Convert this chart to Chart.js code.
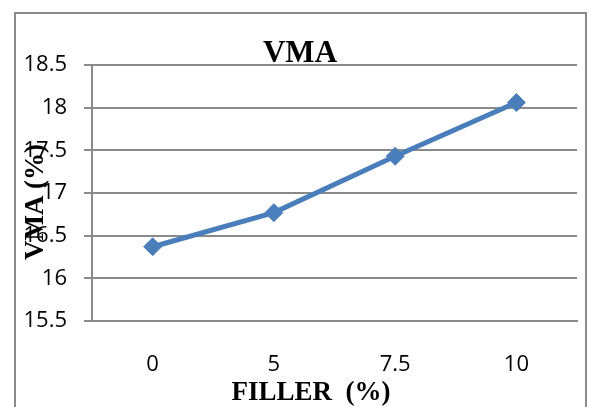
<!DOCTYPE html>
<html>
<head>
<meta charset="utf-8">
<title>VMA</title>
<script src="https://cdn.jsdelivr.net/npm/chart.js@4.4.0/dist/chart.umd.min.js"></script>
<style>
  html, body { margin: 0; padding: 0; background: #fff; }
  #wrap { position: relative; width: 589px; height: 407px; overflow: hidden; }
  #frame { position: absolute; left: 14px; top: 12px; width: 573px; height: 420px;
           border: 2px solid #8a8a8a; box-sizing: border-box; }
  #chart { position: absolute; left: 0; top: 0; }
</style>
</head>
<body>
<div id="wrap">
  <div id="frame"></div>
  <canvas id="chart" width="589" height="407"></canvas>
</div>
<script>
// filler content vs. VMA
const fillerPct = ['0', '5', '7.5', '10'];
const vmaValues = [16.37, 16.77, 17.43, 18.06];
const yMin = 15.5;
const yMax = 18.5;
const yStep = 0.5;

const chartTitle = 'VMA';
const xTitle = 'FILLER  (%)';
const yTitle = 'VMA (%)';

const gridGray = '#8a8a8a';
const lineBlue = '#4a7ebb';
const tickFont = { family: '"Open Sans", sans-serif', size: 22 };

// titles sit over the plot edges, so they are painted by hand
const titlesPlugin = {
  id: 'titles',
  afterDraw(chart) {
    const ctx = chart.ctx;
    ctx.save();
    ctx.fillStyle = '#000';
    ctx.textAlign = 'center';
    ctx.textBaseline = 'alphabetic';
    ctx.font = 'bold 31px "Liberation Serif", serif';
    ctx.fillText(chartTitle, 300, 62);
    ctx.font = 'bold 27px "Liberation Serif", serif';
    ctx.fillText(xTitle, 311, 400);
    ctx.translate(43, 202);
    ctx.rotate(-Math.PI / 2);
    ctx.fillText(yTitle, 0, 0);
    ctx.restore();
  }
};

new Chart(document.getElementById('chart'), {
  type: 'line',
  data: {
    labels: fillerPct,
    datasets: [{
      data: vmaValues,
      borderColor: lineBlue,
      backgroundColor: lineBlue,
      borderWidth: 5,
      tension: 0,
      pointStyle: 'rectRot',
      pointRadius: 9,
      pointBorderWidth: 1,
      pointBackgroundColor: lineBlue,
      pointBorderColor: lineBlue
    }]
  },
  options: {
    responsive: false,
    animation: false,
    devicePixelRatio: 1,
    layout: { padding: { top: 65, right: 12, bottom: 0, left: 0 } },
    plugins: {
      legend: { display: false },
      title: { display: false },
      tooltip: { enabled: false }
    },
    scales: {
      x: {
        type: 'category',
        offset: true,
        grid: { display: false },
        border: { display: true, color: gridGray, width: 2 },
        ticks: { color: '#000', font: tickFont, padding: 23, maxRotation: 0 },
        afterFit(scale) { scale.height = 86; }
      },
      y: {
        min: yMin,
        max: yMax,
        grid: { color: gridGray, lineWidth: 2, tickLength: 8, tickColor: gridGray },
        border: { display: true, color: gridGray, width: 2 },
        ticks: {
          stepSize: yStep,
          color: '#000',
          font: tickFont,
          padding: 17,
          callback: v => String(v)
        },
        afterFit(scale) { scale.width = 92; }
      }
    }
  },
  plugins: [titlesPlugin]
});
</script>
</body>
</html>
